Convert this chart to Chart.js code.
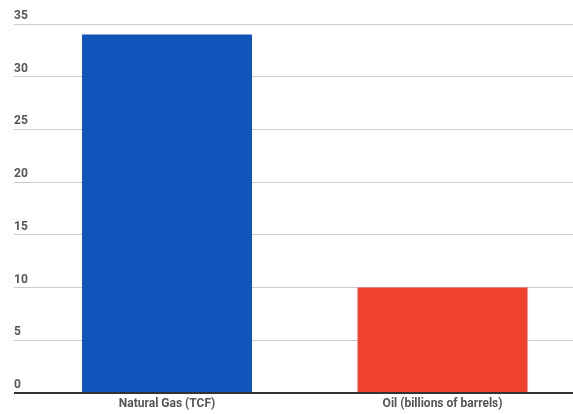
<!DOCTYPE html>
<html>
<head>
<meta charset="utf-8">
<script src="https://cdn.jsdelivr.net/npm/chart.js@4"></script>
<style>
  html, body { margin: 0; padding: 0; background: #ffffff; overflow: hidden; }
  #wrap { width: 573px; height: 414px; position: relative; }
</style>
</head>
<body>
<div id="wrap"><canvas id="c"></canvas></div>
<script>
// Reserves by resource type
const categories = ['Natural Gas (TCF)', 'Oil (billions of barrels)'];
const reserves = [34, 10];
const barColors = ['#1055b9', '#ef412d'];
const yTicks = [0, 5, 10, 15, 20, 25, 30, 35];

Chart.defaults.font.family = 'Roboto, "Noto Sans", sans-serif';

// Bars are placed on a numeric x scale (one unit per category) so the
// plot can extend slightly past the right edge.
const points = reserves.map((v, i) => ({ x: i, y: v }));

new Chart(document.getElementById('c'), {
  type: 'bar',
  data: {
    datasets: [{
      data: points,
      backgroundColor: barColors,
      borderWidth: 0,
      categoryPercentage: 1,
      barPercentage: 0.617
    }]
  },
  options: {
    responsive: true,
    maintainAspectRatio: false,
    animation: false,
    layout: { padding: { left: 14, right: 0, top: 24, bottom: 0 } },
    plugins: {
      legend: { display: false },
      tooltip: { enabled: false }
    },
    scales: {
      x: {
        type: 'linear',
        offset: false,
        min: -0.501,
        max: 1.4736,
        afterBuildTicks: (scale) => { scale.ticks = categories.map((c, i) => ({ value: i })); },
        afterFit: (scale) => { scale.height = 21; },
        grid: { display: false, drawTicks: false },
        border: { display: false },
        ticks: {
          padding: 4,
          autoSkip: false,
          maxRotation: 0,
          color: '#555555',
          font: { size: 12, weight: 'bold' },
          callback: (v) => categories[v] ?? ''
        }
      },
      y: {
        min: 0,
        max: 35,
        afterBuildTicks: (scale) => { scale.ticks = yTicks.map(v => ({ value: v })); },
        afterFit: (scale) => { scale.width = 15; },
        border: { display: false },
        grid: {
          drawTicks: true,
          tickLength: 15,
          color: (ctx) => ctx.tick && ctx.tick.value === 0 ? '#333333' : '#cccccc',
          tickColor: (ctx) => ctx.tick && ctx.tick.value === 0 ? '#333333' : '#cccccc',
          lineWidth: (ctx) => ctx.tick && ctx.tick.value === 0 ? 2 : 1
        },
        ticks: {
          mirror: true,
          padding: -15,
          labelOffset: -8,
          color: '#555555',
          font: { size: 12, weight: 'bold' }
        }
      }
    }
  }
});
</script>
</body>
</html>
